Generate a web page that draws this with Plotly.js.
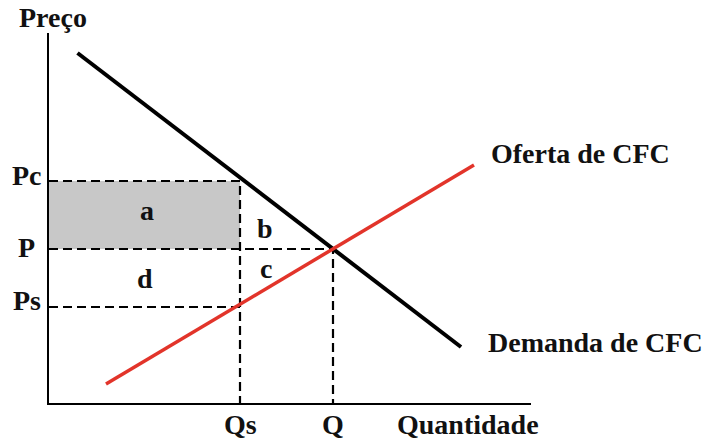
<!DOCTYPE html>
<html>
<head>
<meta charset="utf-8">
<script src="https://cdn.plot.ly/plotly-3.0.1.min.js"></script>
<style>html,body{margin:0;padding:0;background:#fff;}#chart{width:707px;height:440px;}</style>
</head>
<body>
<div id="chart"></div>
<script>
// Data (price/quantity units)
var demandQ = [2.85, 41.2];
var demandP = [35.0, 5.6];
var supplyQ = [5.7, 42.5];
var supplyP = [1.9, 23.8];
var qLevels = [19.1, 28.4];          // Qs, Q
var qLabels = ['Qs', 'Q'];
var pLevels = [22.2, 15.4, 9.6];     // Pc, P, Ps
var pLabels = ['Pc', 'P', 'Ps'];
var areaLabels = ['a', 'b', 'c', 'd'];
var curveLabels = ['Oferta de CFC', 'Demanda de CFC'];
var axisLabels = ['Preço', 'Quantidade'];

var Qs = qLevels[0], Q = qLevels[1];
var Pc = pLevels[0], P = pLevels[1], Ps = pLevels[2];
var XR = [0, 48.2], YR = [0, 37];

var dashStyle = {color: '#000', width: 2.2, dash: '9px,5px'};
var traces = [
  {x: [0, Qs, Qs, 0, 0], y: [Pc, Pc, P, P, Pc], fill: 'toself', fillcolor: '#c8c8c8',
   mode: 'none', hoverinfo: 'skip'},
  {x: [0, Qs, Qs], y: [Pc, Pc, 0], mode: 'lines', line: dashStyle},
  {x: [0, Q, Q], y: [P, P, 0], mode: 'lines', line: dashStyle},
  {x: [0, Qs], y: [Ps, Ps], mode: 'lines', line: dashStyle},
  {x: demandQ, y: demandP, mode: 'lines', line: {color: '#000', width: 4}},
  {x: supplyQ, y: supplyP, mode: 'lines', line: {color: '#e2342a', width: 3.5}}
];

var fnt = {family: 'Liberation Serif, Times New Roman, serif', size: 28, color: '#111'};
function ann(text, x, y, xa) {
  return {text: '<b>' + text + '</b>', x: (x - XR[0]) / (XR[1] - XR[0]), y: (y - YR[0]) / (YR[1] - YR[0]),
          xref: 'paper', yref: 'paper', showarrow: false,
          xanchor: xa || 'center', yanchor: 'middle', font: fnt};
}
var anns = [];
var pLabelY = [22.72, 15.52, 10.22];
for (var i = 0; i < pLabels.length; i++) anns.push(ann(pLabels[i], -2.2, pLabelY[i]));
for (var j = 0; j < qLabels.length; j++) anns.push(ann(qLabels[j], qLevels[j], -2.18));
anns.push(ann(axisLabels[1], 41.9, -2.18));
anns.push(ann(axisLabels[0], 0.4, 38.52));
anns.push(ann(areaLabels[0], 9.8, 19.22));
anns.push(ann(areaLabels[1], 21.6, 17.42));
anns.push(ann(areaLabels[2], 21.7, 13.42));
anns.push(ann(areaLabels[3], 9.6, 12.42));
anns.push(ann(curveLabels[0], 44.0, 24.92, 'left'));
anns.push(ann(curveLabels[1], 43.7, 6.02, 'left'));

var layout = {
  width: 707, height: 440,
  margin: {l: 49, r: 176, t: 33, b: 37, pad: 0},
  paper_bgcolor: '#fff', plot_bgcolor: '#fff',
  showlegend: false,
  xaxis: {range: XR, showline: true, linecolor: '#000', linewidth: 2,
          showgrid: false, zeroline: false, showticklabels: false, ticks: ''},
  yaxis: {range: YR, showline: true, linecolor: '#000', linewidth: 2,
          showgrid: false, zeroline: false, showticklabels: false, ticks: ''},
  annotations: anns
};
Plotly.newPlot('chart', traces, layout, {displayModeBar: false, staticPlot: true});
</script>
</body>
</html>
